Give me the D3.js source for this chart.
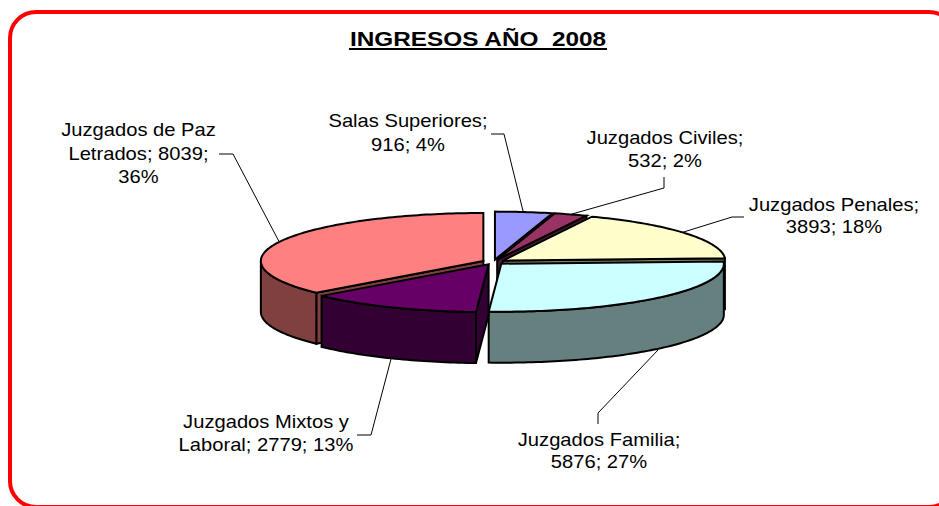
<!DOCTYPE html>
<html>
<head>
<meta charset="utf-8">
<script src="https://cdn.jsdelivr.net/npm/d3@7/dist/d3.min.js"></script>
<style>
html,body{margin:0;padding:0;background:#fff;overflow:hidden}
svg{display:block}
text{font-family:"Liberation Sans",Arial,sans-serif;fill:#000;white-space:pre}
</style>
</head>
<body>
<script>
const categories = ["Salas Superiores","Juzgados Civiles","Juzgados Penales","Juzgados Familia","Juzgados Mixtos y Laboral","Juzgados de Paz Letrados"];
const values = [916,532,3893,5876,2779,8039];
const topColors = ["#9999FF","#993366","#FFFFCC","#CCFFFF","#660066","#FF8080"];
const sideColors = ["#4D4D80","#4D1A33","#808066","#668080","#330033","#804040"];
const labelLines = [
  ["Salas Superiores;","916; 4%"],
  ["Juzgados Civiles;","532; 2%"],
  ["Juzgados Penales;","3893; 18%"],
  ["Juzgados Familia;","5876; 27%"],
  ["Juzgados Mixtos y","Laboral; 2779; 13%"],
  ["Juzgados de Paz","Letrados; 8039;","36%"]
];
const titleText = "INGRESOS AÑO  2008";

// layout (separate from the data)
const W = 939, H = 506;
const cx = 493.5, cy = 262, rx = 222.5, ry = 48, depth = 51, explode = 0.05;
const labelPos = [[408,127,24],[665,144,23],[834,211,22],[599,446,22],[266,428,23],[138.5,136,23.5]];
const leaders = [
  [[491,134],[504,134],[523,211]],
  [[664,177],[664,188],[572,214]],
  [[744,217],[732,217],[682,232.5]],
  [[598,424],[598,413],[658,350]],
  [[357,435],[371,435],[391,359]],
  [[219,154],[233,154],[279,241.5]]
];
const paintOrder = [0,1,2,5,3,4];
const minFaceAngle = 0.3;

const svg = d3.select("body").append("svg").attr("width",W).attr("height",H);
svg.append("rect").attr("x",10).attr("y",12).attr("width",945).attr("height",495).attr("rx",26).attr("ry",26)
  .attr("fill","#fff").attr("stroke","#FF0000").attr("stroke-width",4);

svg.append("text").attr("transform","translate(478,46) scale(1.16,1)").attr("text-anchor","middle")
  .attr("font-size",21).attr("font-weight","bold").text(titleText);
svg.append("rect").attr("x",349).attr("y",48).attr("width",258).attr("height",2).attr("fill","#000");

const slices = d3.pie().sort(null).value(d=>d).startAngle(0).endAngle(2*Math.PI)(values);
const sx = d3.scaleLinear().domain([-1,1]).range([cx-rx,cx+rx]);
const sy = d3.scaleLinear().domain([-1,1]).range([cy-ry,cy+ry]);
const line = d3.line();
const pie = svg.append("g").attr("stroke","#000").attr("stroke-width",2).attr("stroke-linejoin","miter");

function arcPts(a0,a1,ex,ey,z){
  const n = Math.max(2,Math.ceil((a1-a0)/0.02)), pts=[];
  for(let i=0;i<=n;i++){const a=a0+(a1-a0)*i/n; pts.push([sx(ex+Math.sin(a)),sy(ey-Math.cos(a))+z]);}
  return pts;
}
paintOrder.forEach(i=>{
  const s = slices[i], a0=s.startAngle, a1=s.endAngle, mid=(a0+a1)/2;
  const ex = explode*Math.sin(mid), ey = -explode*Math.cos(mid);
  const apex=[sx(ex),sy(ey)], apexB=[apex[0],apex[1]+depth];
  const face = a=>{
    const o=[sx(ex+Math.sin(a)),sy(ey-Math.cos(a))];
    pie.append("path").attr("fill",sideColors[i]).attr("d",line([apex,o,[o[0],o[1]+depth],apexB])+"Z");
  };
  if(a1<Math.PI && a1>minFaceAngle) face(a1);
  if(a0>Math.PI) face(a0);
  const w0=Math.max(a0,Math.PI/2), w1=Math.min(a1,1.5*Math.PI);
  if(w1>w0){
    const top=arcPts(w0,w1,ex,ey,0), bot=arcPts(w0,w1,ex,ey,depth).reverse();
    pie.append("path").attr("fill",sideColors[i]).attr("d",line(top.concat(bot))+"Z");
  }
  pie.append("path").attr("fill",topColors[i]).attr("d",line([apex].concat(arcPts(a0,a1,ex,ey,0)))+"Z");
});

svg.append("g").attr("fill","none").attr("stroke","#000").attr("stroke-width",1)
  .selectAll("path").data(leaders).join("path").attr("d",d=>line(d));

const lab = svg.append("g").attr("font-size",18).attr("text-anchor","middle");
labelLines.forEach((lines,i)=>{
  const [x,y,lh]=labelPos[i];
  lines.forEach((t,j)=>lab.append("text").attr("transform",`translate(${x},${y+j*lh}) scale(1.12,1)`).text(t));
});
</script>
</body>
</html>
